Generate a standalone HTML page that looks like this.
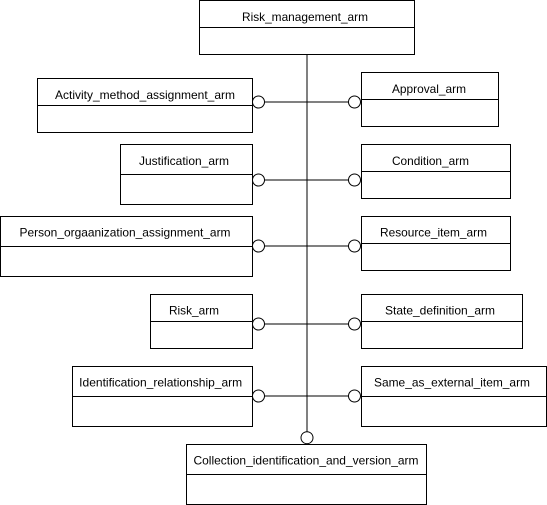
<!DOCTYPE html>
<html><head><meta charset="utf-8"><style>html,body{margin:0;padding:0;background:#fff}svg{display:block}</style></head>
<body>
<svg width="547" height="505" viewBox="0 0 547 505" xmlns="http://www.w3.org/2000/svg" font-family="Liberation Sans, Arial, sans-serif" font-size="12" fill="none" stroke="#000" stroke-width="1">
<g stroke="#000">
<line x1="307" y1="54" x2="307" y2="432"/>
<line x1="264" y1="102" x2="349" y2="102"/>
<line x1="264" y1="180" x2="349" y2="180"/>
<line x1="264" y1="246" x2="349" y2="246"/>
<line x1="264" y1="324" x2="349" y2="324"/>
<line x1="264" y1="396" x2="349" y2="396"/>
</g>
<g fill="#fff">
<rect x="199.5" y="0.5" width="215" height="54"/><line x1="199.5" y1="27.5" x2="414.5" y2="27.5"/>
<rect x="37.5" y="78.5" width="215" height="54"/><line x1="37.5" y1="105.5" x2="252.5" y2="105.5"/>
<rect x="361.5" y="72.5" width="137" height="54"/><line x1="361.5" y1="99.5" x2="498.5" y2="99.5"/>
<rect x="120.5" y="144.5" width="132" height="60"/><line x1="120.5" y1="174.5" x2="252.5" y2="174.5"/>
<rect x="361.5" y="144.5" width="149" height="54"/><line x1="361.5" y1="171.5" x2="510.5" y2="171.5"/>
<rect x="0.5" y="216.5" width="252" height="60"/><line x1="0.5" y1="246.5" x2="252.5" y2="246.5"/>
<rect x="361.5" y="216.5" width="149" height="54"/><line x1="361.5" y1="243.5" x2="510.5" y2="243.5"/>
<rect x="150.5" y="294.5" width="102" height="54"/><line x1="150.5" y1="321.5" x2="252.5" y2="321.5"/>
<rect x="361.5" y="294.5" width="161" height="54"/><line x1="361.5" y1="321.5" x2="522.5" y2="321.5"/>
<rect x="72.5" y="366.5" width="180" height="60"/><line x1="72.5" y1="396.5" x2="252.5" y2="396.5"/>
<rect x="361.5" y="366.5" width="185" height="60"/><line x1="361.5" y1="396.5" x2="546.5" y2="396.5"/>
<rect x="186.5" y="444.5" width="240" height="60"/><line x1="186.5" y1="474.5" x2="426.5" y2="474.5"/>
</g>
<g fill="#fff">
<circle cx="258.5" cy="102" r="6"/><circle cx="354.5" cy="102" r="6"/>
<circle cx="258.5" cy="180" r="6"/><circle cx="354.5" cy="180" r="6"/>
<circle cx="258.5" cy="246" r="6"/><circle cx="354.5" cy="246" r="6"/>
<circle cx="258.5" cy="324" r="6"/><circle cx="354.5" cy="324" r="6"/>
<circle cx="258.5" cy="396" r="6"/><circle cx="354.5" cy="396" r="6"/>
<circle cx="307" cy="437.7" r="6"/>
</g>
<g fill="#000" stroke="none" text-anchor="middle" dominant-baseline="central" lengthAdjust="spacingAndGlyphs">
<text x="305" y="17" textLength="126" lengthAdjust="spacingAndGlyphs">Risk_management_arm</text>
<text x="145" y="95" textLength="180" lengthAdjust="spacingAndGlyphs">Activity_method_assignment_arm</text>
<text x="429" y="89" textLength="74" lengthAdjust="spacingAndGlyphs">Approval_arm</text>
<text x="184" y="161" textLength="90" lengthAdjust="spacingAndGlyphs">Justification_arm</text>
<text x="430.5" y="161" textLength="77" lengthAdjust="spacingAndGlyphs">Condition_arm</text>
<text x="125" y="232.7" textLength="211" lengthAdjust="spacingAndGlyphs">Person_orgaanization_assignment_arm</text>
<text x="433.5" y="232.7" textLength="107" lengthAdjust="spacingAndGlyphs">Resource_item_arm</text>
<text x="194" y="310.7" textLength="50" lengthAdjust="spacingAndGlyphs">Risk_arm</text>
<text x="440" y="310.7" textLength="110" lengthAdjust="spacingAndGlyphs">State_definition_arm</text>
<text x="160.7" y="382.7" textLength="163" lengthAdjust="spacingAndGlyphs">Identification_relationship_arm</text>
<text x="452" y="382.7" textLength="156" lengthAdjust="spacingAndGlyphs">Same_as_external_item_arm</text>
<text x="306" y="460.7" textLength="225" lengthAdjust="spacingAndGlyphs">Collection_identification_and_version_arm</text>
</g>
</svg>
</body></html>
